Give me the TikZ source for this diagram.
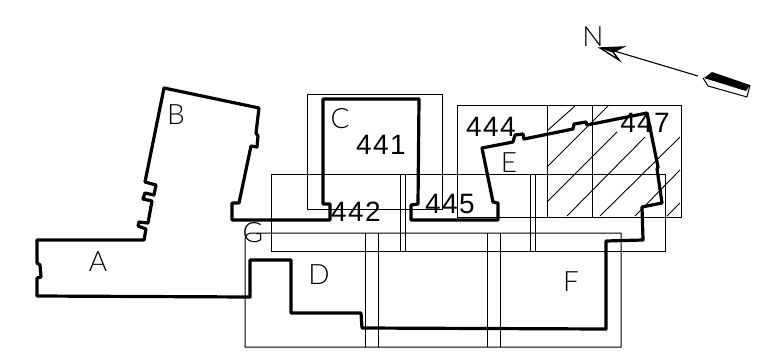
\documentclass[tikz,border=0pt]{standalone}
\usepackage{fontspec}
\setmainfont{Liberation Sans}
\newfontfamily\thinfont{Lato Light}
\newfontfamily\roomfont[LetterSpace=5]{Liberation Sans}
\tikzset{
  thinline/.style={line width=1pt,black},
  wall/.style={line width=3.2pt,black,line join=round},
  hatchline/.style={line width=0.9pt,black},
  roomno/.style={inner sep=0pt,font=\roomfont\fontsize{28}{28}\selectfont},
  blockname/.style={inner sep=0pt,font=\thinfont\fontsize{28}{28}\selectfont},
}
\begin{document}
\begin{tikzpicture}[x=1pt,y=-1pt]
\useasboundingbox (0,0) rectangle (762,351);
% thin grid
\draw[thinline] (307,94) rectangle (442,209);
\draw[thinline] (271,174) rectangle (665,251);
\draw[thinline] (457,105) rectangle (681,217);
\draw[thinline] (547,105) -- (547,217) (592,105) -- (592,217);
\draw[thinline] (245,347) -- (245,240) .. controls (245,236) and (247,233) .. (252,233) -- (621,233) -- (621,347) -- cycle;
\draw[thinline] (365,233) -- (365,347) (378,233) -- (378,347) (487,233) -- (487,347) (500,233) -- (500,347);
\draw[thinline] (400,174) -- (400,251) (405,174) -- (405,251) (530,174) -- (530,251) (535,174) -- (535,251);
% hatching
\draw[hatchline] (548,130) -- (575,106) (547,167) -- (608,106) (547,202) -- (617,132)
  (567,216) -- (645,137) (600,216) -- (680,137) (635,216) -- (680,170) (667,216) -- (680,203);
% thick outline
\draw[wall] (37,240) -- (144,240) -- (146,229) -- (138,226) -- (139,222) -- (148,223) -- (152,201) -- (143,199) -- (145,193) -- (154,195) -- (156,185) -- (145,182)
  -- (164,88) -- (259,108) -- (256,133) -- (258,136) -- (257,147) -- (251,146) -- (239,203) -- (232,203) -- (232,220) -- (330,220) -- (330,204) -- (323,204)
  -- (323,99) -- (419,99) -- (418,204) -- (411,205) -- (411,220) -- (498,220) -- (498,203) -- (493,202) -- (482,148) -- (513,142) -- (515,135) -- (523,134) -- (524,139)
  -- (573,129) -- (574,124) -- (586,122) -- (587,125) -- (647,113) -- (658,167) -- (657,169) -- (662,203) -- (642,207) -- (643,240) -- (606,241)
  -- (606,329) -- (362,328) -- (361,313) -- (291,313) -- (291,260) -- (250,260) -- (250,297) -- (37,296) -- (37,278) -- (41,277) -- (40,265) -- (37,263) -- cycle;
% north arrow
\draw[line width=1.1pt] (698,76) -- (611,50);
\draw[line width=1.4pt,line join=miter] (600,48) -- (623,47) -- (613,52) -- (619,60) -- cycle;
\fill (600,48) -- (623,47) -- (615,52) -- (611,52) -- cycle;
\fill (712,72) -- (750,85) -- (746,91) -- (704,78) -- cycle;
\draw[line width=1pt] (703,78) -- (708,86) -- (747,97) -- (750,85);
% labels
\node[blockname] (na) at (98,262) {A};
\node[blockname] (nb) at (176,115) {B};
\node[blockname] (nc) at (340,119) {C};
\node[blockname] (nd) at (319,275) {D};
\node[blockname] (ne) at (509,163) {E};
\node[blockname] (nf) at (571,282) {F};
\node[blockname] (ng) at (253,233) {G};
\node[blockname] (nn) at (593,37) {N};
\node[roomno] (r441) at (381,145) {441};
\node[roomno] (r442) at (356,212) {442};
\node[roomno] (r444) at (491,127) {444};
\node[roomno] (r445) at (450,204) {445};
\node[roomno] (r447) at (645,123) {447};
\end{tikzpicture}
\end{document}
